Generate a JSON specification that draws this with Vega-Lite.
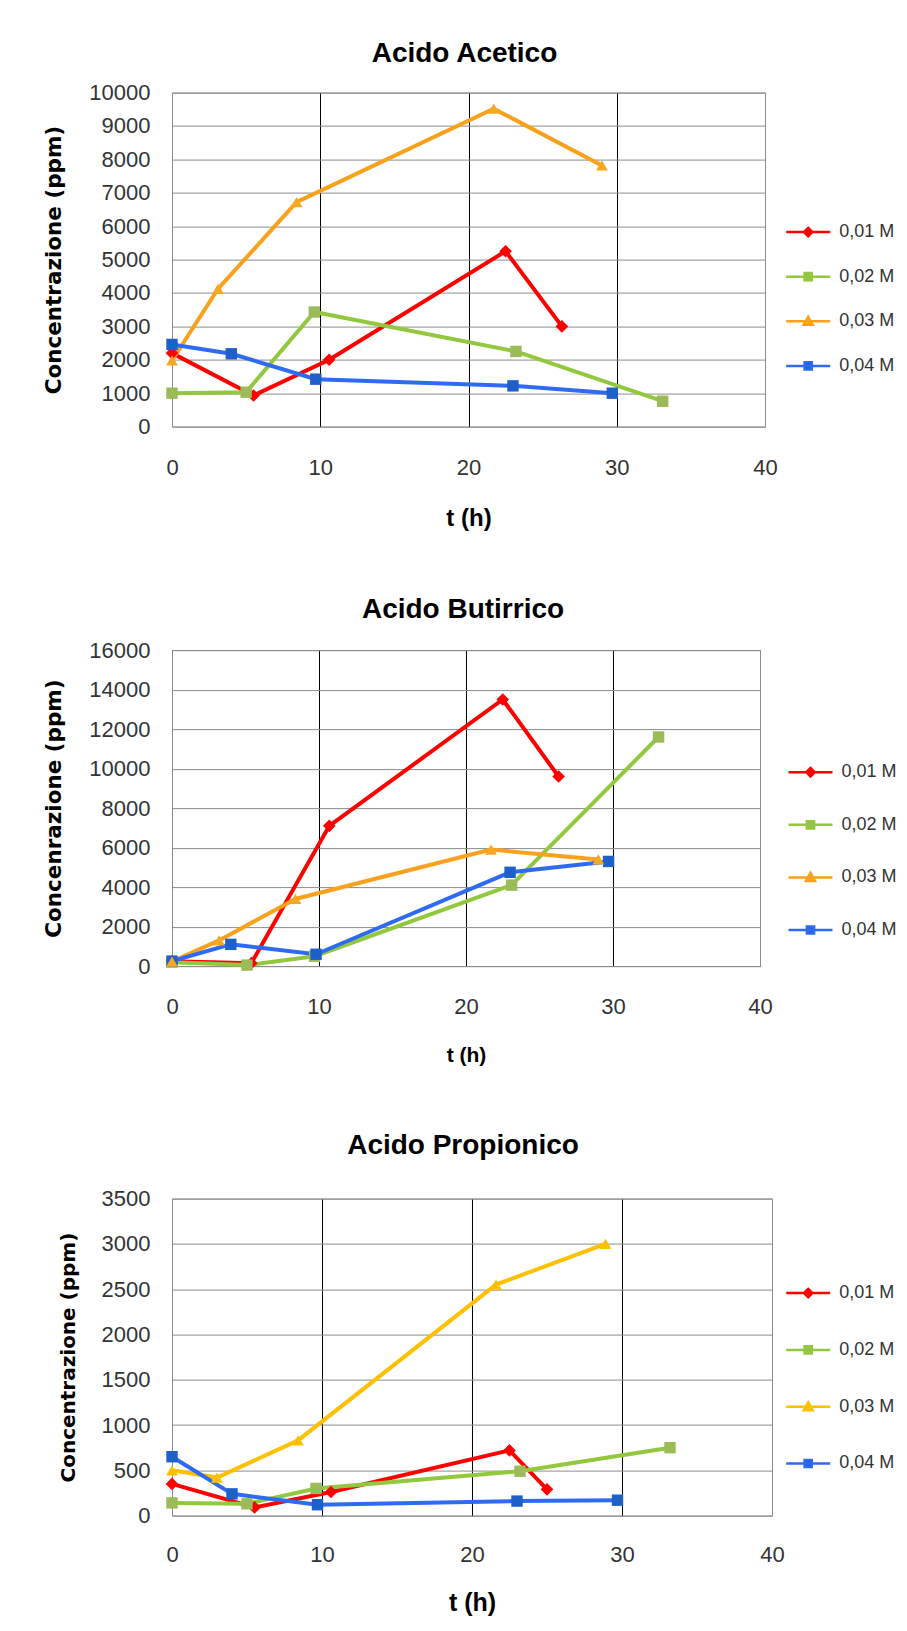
{
  "$schema": "https://vega.github.io/schema/vega-lite/v6.json",
  "background": "white",
  "padding": {"left": 43, "top": 38.6, "right": 0, "bottom": 0},
  "spacing": 63.5,
  "config": {
    "font": "Liberation Sans",
    "view": {"stroke": "#8c8c8c", "strokeWidth": 1},
    "axis": {
      "labelFont": "Liberation Sans", "labelFontSize": 22, "labelColor": "#333333",
      "ticks": false, "tickSize": 0, "domain": false, "grid": true,
      "gridColor": "#8c8c8c", "gridWidth": 1, "titleColor": "#000000",
      "labelFlush": false, "labelOverlap": false, "labelBound": false
    },
    "axisX": {"titleFont": "Liberation Sans", "titleFontWeight": "bold"},
    "axisY": {"titleFont": "DejaVu Sans", "titleFontWeight": "bold", "labelPadding": 22},
    "title": {"font": "Liberation Sans", "fontSize": 28, "fontWeight": "bold", "color": "#000000", "frame": "group", "anchor": "middle", "baseline": "alphabetic"},
    "legend": {"orient": "none", "title": null, "padding": 0, "symbolSize": 400, "labelOffset": 19.5, "labelFontSize": 18, "labelColor": "#333333", "labelFont": "Liberation Sans"}
  },
  "datasets": {
    "acetico": [
      {"serie": "0,01 M", "t": 0, "c": 2200}, {"serie": "0,01 M", "t": 5.5, "c": 930}, {"serie": "0,01 M", "t": 10.6, "c": 2000}, {"serie": "0,01 M", "t": 22.5, "c": 5250}, {"serie": "0,01 M", "t": 26.3, "c": 3000},
      {"serie": "0,02 M", "t": 0, "c": 1000}, {"serie": "0,02 M", "t": 5.0, "c": 1030}, {"serie": "0,02 M", "t": 9.6, "c": 3430}, {"serie": "0,02 M", "t": 23.2, "c": 2250}, {"serie": "0,02 M", "t": 33.1, "c": 760},
      {"serie": "0,03 M", "t": 0, "c": 1980}, {"serie": "0,03 M", "t": 3.1, "c": 4120}, {"serie": "0,03 M", "t": 8.4, "c": 6720}, {"serie": "0,03 M", "t": 21.7, "c": 9520}, {"serie": "0,03 M", "t": 29.0, "c": 7820},
      {"serie": "0,04 M", "t": 0, "c": 2460}, {"serie": "0,04 M", "t": 4.0, "c": 2180}, {"serie": "0,04 M", "t": 9.7, "c": 1420}, {"serie": "0,04 M", "t": 23.0, "c": 1220}, {"serie": "0,04 M", "t": 29.7, "c": 1000}
    ],
    "butirrico": [
      {"serie": "0,01 M", "t": 0, "c": 250}, {"serie": "0,01 M", "t": 5.4, "c": 150}, {"serie": "0,01 M", "t": 10.7, "c": 7100}, {"serie": "0,01 M", "t": 22.5, "c": 13500}, {"serie": "0,01 M", "t": 26.3, "c": 9600},
      {"serie": "0,02 M", "t": 0, "c": 200}, {"serie": "0,02 M", "t": 5.1, "c": 50}, {"serie": "0,02 M", "t": 9.7, "c": 500}, {"serie": "0,02 M", "t": 23.1, "c": 4100}, {"serie": "0,02 M", "t": 33.1, "c": 11600},
      {"serie": "0,03 M", "t": 0, "c": 230}, {"serie": "0,03 M", "t": 3.2, "c": 1300}, {"serie": "0,03 M", "t": 8.4, "c": 3400}, {"serie": "0,03 M", "t": 21.7, "c": 5900}, {"serie": "0,03 M", "t": 29.0, "c": 5400},
      {"serie": "0,04 M", "t": 0, "c": 250}, {"serie": "0,04 M", "t": 4.0, "c": 1100}, {"serie": "0,04 M", "t": 9.8, "c": 600}, {"serie": "0,04 M", "t": 23.0, "c": 4750}, {"serie": "0,04 M", "t": 29.7, "c": 5300}
    ],
    "propionico": [
      {"serie": "0,01 M", "t": 0, "c": 350}, {"serie": "0,01 M", "t": 5.5, "c": 90}, {"serie": "0,01 M", "t": 10.6, "c": 260}, {"serie": "0,01 M", "t": 22.5, "c": 720}, {"serie": "0,01 M", "t": 25.0, "c": 290},
      {"serie": "0,02 M", "t": 0, "c": 140}, {"serie": "0,02 M", "t": 5.0, "c": 130}, {"serie": "0,02 M", "t": 9.6, "c": 300}, {"serie": "0,02 M", "t": 23.2, "c": 490}, {"serie": "0,02 M", "t": 33.2, "c": 750},
      {"serie": "0,03 M", "t": 0, "c": 500}, {"serie": "0,03 M", "t": 3.0, "c": 420}, {"serie": "0,03 M", "t": 8.4, "c": 830}, {"serie": "0,03 M", "t": 21.6, "c": 2550}, {"serie": "0,03 M", "t": 28.9, "c": 3000},
      {"serie": "0,04 M", "t": 0, "c": 650}, {"serie": "0,04 M", "t": 4.0, "c": 240}, {"serie": "0,04 M", "t": 9.7, "c": 120}, {"serie": "0,04 M", "t": 23.0, "c": 160}, {"serie": "0,04 M", "t": 29.7, "c": 170}
    ]
  },
  "resolve": {
    "scale": {"color": "independent", "fill": "independent", "x": "independent", "y": "independent"},
    "legend": {"color": "independent", "fill": "independent"}
  },
  "vconcat": [
    {
      "title": {"text": "Acido Acetico", "offset": 13.8, "dx": -4},
      "width": 593, "height": 334,
      "data": {"name": "acetico"},
      "encoding": {
        "x": {"field": "t", "type": "quantitative", "scale": {"domain": [0, 40], "nice": false},
          "axis": {"values": [0, 10, 20, 30, 40], "title": "t (h)", "titleFontSize": 24, "labelPadding": 30.5, "titlePadding": 28.4,
            "gridColor": {"condition": {"test": "datum.value == 0 || datum.value == 40", "value": "#8c8c8c"}, "value": "#000000"}}},
        "y": {"field": "c", "type": "quantitative", "scale": {"domain": [0, 10000], "nice": false},
          "axis": {"values": [0, 1000, 2000, 3000, 4000, 5000, 6000, 7000, 8000, 9000, 10000], "format": "d", "title": "Concentrazione (ppm)", "titleFontSize": 21.5, "titlePadding": 23.3}}
      },
      "layer": [
        {"mark": {"type": "line", "strokeWidth": 4},
         "encoding": {"color": {"field": "serie", "type": "nominal",
          "scale": {"domain": ["0,01 M", "0,02 M", "0,03 M", "0,04 M"], "range": ["#FF0000", "#92C83E", "#F9A11B", "#2F6BF2"]},
          "legend": {"legendX": 624.7, "legendY": 128, "rowPadding": 23.6,
            "encode": {"symbols": {"update": {
              "shape": {"signal": "datum.value == '0,01 M' ? 'M-2.2,0L2.2,0M0,-0.42L0.42,0L0,0.42L-0.42,0Z' : datum.value == '0,03 M' ? 'M-2.2,0L2.2,0M0,-0.45L0.45,0.35L-0.45,0.35Z' : 'M-2.2,0L2.2,0M-0.36,-0.36L0.36,-0.36L0.36,0.36L-0.36,0.36Z'"},
              "fill": {"signal": "datum.value == '0,01 M' ? '#FF0000' : datum.value == '0,02 M' ? '#9BBB59' : datum.value == '0,03 M' ? '#F7A823' : '#1F5FC8'"},
              "stroke": {"signal": "datum.value == '0,01 M' ? '#FF0000' : datum.value == '0,02 M' ? '#92C83E' : datum.value == '0,03 M' ? '#F9A11B' : '#2F6BF2'"},
              "strokeWidth": {"value": 2.5}, "opacity": {"value": 1}, "size": {"value": 400}}}}}}}},
        {"transform": [{"filter": {"field": "serie", "equal": "0,01 M"}}], "mark": {"type": "point", "shape": "diamond", "filled": true, "opacity": 1, "size": 160},
         "encoding": {"fill": {"field": "serie", "type": "nominal", "scale": {"domain": ["0,01 M", "0,02 M", "0,03 M", "0,04 M"], "range": ["#FF0000", "#9BBB59", "#F7A823", "#1F5FC8"]}, "legend": null}}},
        {"transform": [{"filter": {"field": "serie", "oneOf": ["0,02 M", "0,04 M"]}}], "mark": {"type": "point", "shape": "square", "filled": true, "opacity": 1, "size": 130},
         "encoding": {"fill": {"field": "serie", "type": "nominal", "scale": {"domain": ["0,01 M", "0,02 M", "0,03 M", "0,04 M"], "range": ["#FF0000", "#9BBB59", "#F7A823", "#1F5FC8"]}, "legend": null}}},
        {"transform": [{"filter": {"field": "serie", "equal": "0,03 M"}}], "mark": {"type": "point", "shape": "triangle-up", "filled": true, "opacity": 1, "size": 140},
         "encoding": {"fill": {"field": "serie", "type": "nominal", "scale": {"domain": ["0,01 M", "0,02 M", "0,03 M", "0,04 M"], "range": ["#FF0000", "#9BBB59", "#F7A823", "#1F5FC8"]}, "legend": null}}}
      ]
    },
    {
      "title": {"text": "Acido Butirrico", "offset": 15.3, "dx": -3},
      "width": 588, "height": 316,
      "data": {"name": "butirrico"},
      "encoding": {
        "x": {"field": "t", "type": "quantitative", "scale": {"domain": [0, 40], "nice": false},
          "axis": {"values": [0, 10, 20, 30, 40], "title": "t (h)", "titleFontSize": 21, "labelPadding": 30.9, "titlePadding": 26.7,
            "gridColor": {"condition": {"test": "datum.value == 0 || datum.value == 40", "value": "#8c8c8c"}, "value": "#000000"}}},
        "y": {"field": "c", "type": "quantitative", "scale": {"domain": [0, 16000], "nice": false},
          "axis": {"values": [0, 2000, 4000, 6000, 8000, 10000, 12000, 14000, 16000], "format": "d", "title": "Concenrazione (ppm)", "titleFontSize": 21.5, "titlePadding": 23}}
      },
      "layer": [
        {"mark": {"type": "line", "strokeWidth": 4},
         "encoding": {"color": {"field": "serie", "type": "nominal",
          "scale": {"domain": ["0,01 M", "0,02 M", "0,03 M", "0,04 M"], "range": ["#FF0000", "#92C83E", "#F9A11B", "#2F6BF2"]},
          "legend": {"legendX": 627, "legendY": 110.6, "rowPadding": 31.6,
            "encode": {"symbols": {"update": {
              "shape": {"signal": "datum.value == '0,01 M' ? 'M-2.2,0L2.2,0M0,-0.42L0.42,0L0,0.42L-0.42,0Z' : datum.value == '0,03 M' ? 'M-2.2,0L2.2,0M0,-0.45L0.45,0.35L-0.45,0.35Z' : 'M-2.2,0L2.2,0M-0.36,-0.36L0.36,-0.36L0.36,0.36L-0.36,0.36Z'"},
              "fill": {"signal": "datum.value == '0,01 M' ? '#FF0000' : datum.value == '0,02 M' ? '#9BBB59' : datum.value == '0,03 M' ? '#F7A823' : '#1F5FC8'"},
              "stroke": {"signal": "datum.value == '0,01 M' ? '#FF0000' : datum.value == '0,02 M' ? '#92C83E' : datum.value == '0,03 M' ? '#F9A11B' : '#2F6BF2'"},
              "strokeWidth": {"value": 2.5}, "opacity": {"value": 1}, "size": {"value": 400}}}}}}}},
        {"transform": [{"filter": {"field": "serie", "equal": "0,01 M"}}], "mark": {"type": "point", "shape": "diamond", "filled": true, "opacity": 1, "size": 160},
         "encoding": {"fill": {"field": "serie", "type": "nominal", "scale": {"domain": ["0,01 M", "0,02 M", "0,03 M", "0,04 M"], "range": ["#FF0000", "#9BBB59", "#F7A823", "#1F5FC8"]}, "legend": null}}},
        {"transform": [{"filter": {"field": "serie", "oneOf": ["0,02 M", "0,04 M"]}}], "mark": {"type": "point", "shape": "square", "filled": true, "opacity": 1, "size": 130},
         "encoding": {"fill": {"field": "serie", "type": "nominal", "scale": {"domain": ["0,01 M", "0,02 M", "0,03 M", "0,04 M"], "range": ["#FF0000", "#9BBB59", "#F7A823", "#1F5FC8"]}, "legend": null}}},
        {"transform": [{"filter": {"field": "serie", "equal": "0,03 M"}}], "mark": {"type": "point", "shape": "triangle-up", "filled": true, "opacity": 1, "size": 140},
         "encoding": {"fill": {"field": "serie", "type": "nominal", "scale": {"domain": ["0,01 M", "0,02 M", "0,03 M", "0,04 M"], "range": ["#FF0000", "#9BBB59", "#F7A823", "#1F5FC8"]}, "legend": null}}}
      ]
    },
    {
      "title": {"text": "Acido Propionico", "offset": 27.7, "dx": -9},
      "width": 600, "height": 317,
      "data": {"name": "propionico"},
      "encoding": {
        "x": {"field": "t", "type": "quantitative", "scale": {"domain": [0, 40], "nice": false},
          "axis": {"values": [0, 10, 20, 30, 40], "title": "t (h)", "titleFontSize": 25, "labelPadding": 28.5, "titlePadding": 25.5,
            "gridColor": {"condition": {"test": "datum.value == 0 || datum.value == 40", "value": "#8c8c8c"}, "value": "#000000"}}},
        "y": {"field": "c", "type": "quantitative", "scale": {"domain": [0, 3500], "nice": false},
          "axis": {"values": [0, 500, 1000, 1500, 2000, 2500, 3000, 3500], "format": "d", "title": "Concentrazione (ppm)", "titleFontSize": 20, "titlePadding": 22.5}}
      },
      "layer": [
        {"mark": {"type": "line", "strokeWidth": 4},
         "encoding": {"color": {"field": "serie", "type": "nominal",
          "scale": {"domain": ["0,01 M", "0,02 M", "0,03 M", "0,04 M"], "range": ["#FF0000", "#92C83E", "#FFC000", "#2F6BF2"]},
          "legend": {"legendX": 624.7, "legendY": 83, "rowPadding": 35.8,
            "encode": {"symbols": {"update": {
              "shape": {"signal": "datum.value == '0,01 M' ? 'M-2.2,0L2.2,0M0,-0.42L0.42,0L0,0.42L-0.42,0Z' : datum.value == '0,03 M' ? 'M-2.2,0L2.2,0M0,-0.45L0.45,0.35L-0.45,0.35Z' : 'M-2.2,0L2.2,0M-0.36,-0.36L0.36,-0.36L0.36,0.36L-0.36,0.36Z'"},
              "fill": {"signal": "datum.value == '0,01 M' ? '#FF0000' : datum.value == '0,02 M' ? '#9BBB59' : datum.value == '0,03 M' ? '#FFC000' : '#1F5FC8'"},
              "stroke": {"signal": "datum.value == '0,01 M' ? '#FF0000' : datum.value == '0,02 M' ? '#92C83E' : datum.value == '0,03 M' ? '#FFC000' : '#2F6BF2'"},
              "strokeWidth": {"value": 2.5}, "opacity": {"value": 1}, "size": {"value": 400}}}}}}}},
        {"transform": [{"filter": {"field": "serie", "equal": "0,01 M"}}], "mark": {"type": "point", "shape": "diamond", "filled": true, "opacity": 1, "size": 160},
         "encoding": {"fill": {"field": "serie", "type": "nominal", "scale": {"domain": ["0,01 M", "0,02 M", "0,03 M", "0,04 M"], "range": ["#FF0000", "#9BBB59", "#FFC000", "#1F5FC8"]}, "legend": null}}},
        {"transform": [{"filter": {"field": "serie", "oneOf": ["0,02 M", "0,04 M"]}}], "mark": {"type": "point", "shape": "square", "filled": true, "opacity": 1, "size": 130},
         "encoding": {"fill": {"field": "serie", "type": "nominal", "scale": {"domain": ["0,01 M", "0,02 M", "0,03 M", "0,04 M"], "range": ["#FF0000", "#9BBB59", "#FFC000", "#1F5FC8"]}, "legend": null}}},
        {"transform": [{"filter": {"field": "serie", "equal": "0,03 M"}}], "mark": {"type": "point", "shape": "triangle-up", "filled": true, "opacity": 1, "size": 140},
         "encoding": {"fill": {"field": "serie", "type": "nominal", "scale": {"domain": ["0,01 M", "0,02 M", "0,03 M", "0,04 M"], "range": ["#FF0000", "#9BBB59", "#FFC000", "#1F5FC8"]}, "legend": null}}}
      ]
    }
  ]
}
